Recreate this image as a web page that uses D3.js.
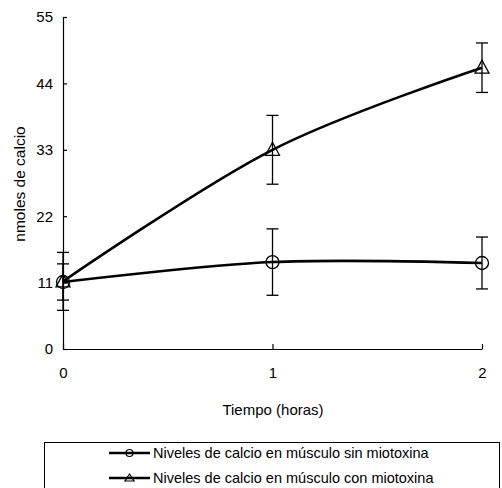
<!DOCTYPE html>
<html>
<head>
<meta charset="utf-8">
<script src="https://cdn.jsdelivr.net/npm/d3@7"></script>
<style>
  body { margin: 0; background: #fff; }
  text { font-family: "Liberation Sans", Arial, sans-serif; fill: #000; }
</style>
</head>
<body>
<div id="chart"></div>
<script>
var horas = [0, 1, 2];
var sinMiotoxina = [11.1, 14.4, 14.25];
var sinError = [3.0, 5.5, 4.3];
var conMiotoxina = [11.2, 33.0, 46.6];
var conError = [4.8, 5.7, 4.1];
var yTicks = [0, 11, 22, 33, 44, 55];
var xTicks = [0, 1, 2];
var seriesNames = ["Niveles de calcio en músculo sin miotoxina",
                   "Niveles de calcio en músculo con miotoxina"];

var svgWidth = 502, svgHeight = 488;

var svg = d3.select("#chart").append("svg")
  .attr("width", svgWidth)
  .attr("height", svgHeight);

var xscale = d3.scaleLinear().domain([0, 2]).range([63, 482]);
var yscale = d3.scaleLinear().domain([0, 55]).range([349, 17]);

// axes, ticks pointing inward
var yAxis = d3.axisLeft(yscale).tickValues(yTicks).tickSizeInner(-4).tickSizeOuter(0).tickPadding(10);
var xAxis = d3.axisBottom(xscale).tickValues(xTicks).tickSizeInner(-5).tickSizeOuter(0).tickPadding(18).tickFormat(d3.format("d"));

var gy = svg.append("g").attr("transform", "translate(63,0)").call(yAxis);
var gx = svg.append("g").attr("transform", "translate(0,349)").call(xAxis);
[gx, gy].forEach(function(g) {
  g.selectAll("text").style("font-size", "15px").style("font-family", "Liberation Sans, Arial, sans-serif");
  g.selectAll("path, line").attr("stroke", "#000").attr("stroke-width", 1.2);
});

svg.append("text")
  .attr("transform", "translate(25,184) rotate(-90)")
  .attr("text-anchor", "middle")
  .style("font-size", "15.5px")
  .text("nmoles de calcio");

svg.append("text")
  .attr("x", 273).attr("y", 415)
  .attr("text-anchor", "middle")
  .style("font-size", "15px")
  .text("Tiempo (horas)");

var line = d3.line()
  .x(d => xscale(d[0]))
  .y(d => yscale(d[1]))
  .curve(d3.curveCardinal.tension(0));

var series = [
  {vals: sinMiotoxina, err: sinError, marker: "circle"},
  {vals: conMiotoxina, err: conError, marker: "triangle"}
];

function drawMarker(g, type, x, y) {
  if (type === "circle") {
    g.append("circle").attr("cx", x).attr("cy", y).attr("r", 6.5)
      .attr("fill", "none").attr("stroke", "#000").attr("stroke-width", 1.3);
  } else {
    g.append("path")
      .attr("d", "M" + x + "," + (y - 7.5) + "L" + (x + 7) + "," + (y + 5.5) + "L" + (x - 7) + "," + (y + 5.5) + "Z")
      .attr("fill", "none").attr("stroke", "#000").attr("stroke-width", 1.3);
  }
}

series.forEach(function(s) {
  var pts = horas.map((h, i) => [h, s.vals[i]]);
  var g = svg.append("g");
  // error bars
  pts.forEach(function(p, i) {
    var x = xscale(p[0]);
    var y1 = yscale(p[1] + s.err[i]), y0 = yscale(p[1] - s.err[i]);
    g.append("line").attr("x1", x).attr("x2", x).attr("y1", y1).attr("y2", y0)
      .attr("stroke", "#000").attr("stroke-width", 1.3);
    [y0, y1].forEach(function(yy) {
      g.append("line").attr("x1", x - 6).attr("x2", x + 6).attr("y1", yy).attr("y2", yy)
        .attr("stroke", "#000").attr("stroke-width", 1.3);
    });
  });
  g.append("path").attr("d", line(pts))
    .attr("fill", "none").attr("stroke", "#000").attr("stroke-width", 2.6);
  pts.forEach(function(p) {
    drawMarker(g, s.marker, xscale(p[0]), yscale(p[1]));
  });
});

// legend
var lg = svg.append("g");
lg.append("rect").attr("x", 44.5).attr("y", 442.5).attr("width", 455).attr("height", 60)
  .attr("fill", "#fff").attr("stroke", "#000").attr("stroke-width", 1);
seriesNames.forEach(function(name, i) {
  var y = 453 + i * 25;
  lg.append("line").attr("x1", 109).attr("x2", 150).attr("y1", y).attr("y2", y)
    .attr("stroke", "#000").attr("stroke-width", 2.6);
  if (series[i].marker === "circle") {
    lg.append("circle").attr("cx", 129.5).attr("cy", y).attr("r", 3.5)
      .attr("fill", "none").attr("stroke", "#000").attr("stroke-width", 1.2);
  } else {
    lg.append("path").attr("d", "M129.5," + (y - 4) + "L134," + (y + 3) + "L125," + (y + 3) + "Z")
      .attr("fill", "none").attr("stroke", "#000").attr("stroke-width", 1.2);
  }
  lg.append("text").attr("x", 153).attr("y", y + 5)
    .style("font-size", "14.5px")
    .text(name);
});
</script>
</body>
</html>
